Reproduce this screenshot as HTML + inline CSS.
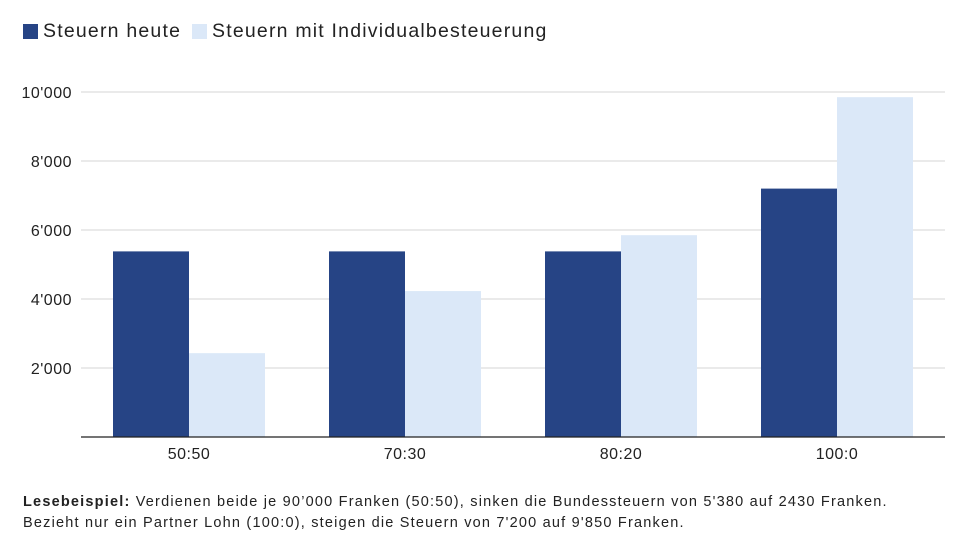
<!DOCTYPE html>
<html><head><meta charset="utf-8"><style>
body{margin:0;width:960px;height:545px;background:#fff;font-family:"Liberation Sans",sans-serif;color:#222;position:relative;overflow:hidden}
.leg{position:absolute;top:20px;font-size:19.5px;letter-spacing:1.2px;display:flex;align-items:center}
.sw{width:15px;height:15px;display:inline-block;margin-right:5px}
.note{position:absolute;left:23px;top:492px;font-size:14.5px;letter-spacing:1.2px;line-height:21px;color:#222}
</style></head><body>
<div class="leg" style="left:23px"><span class="sw" style="background:#264485"></span>Steuern heute</div>
<div class="leg" style="left:192px"><span class="sw" style="background:#dbe8f8"></span>Steuern mit Individualbesteuerung</div>
<svg id="c" width="960" height="480" style="position:absolute;left:0;top:0"></svg>
<div class="note"><b>Lesebeispiel:</b> Verdienen beide je 90’000 Franken (50:50), sinken die Bundessteuern von 5'380 auf 2430 Franken.<br>Bezieht nur ein Partner Lohn (100:0), steigen die Steuern von 7'200 auf 9'850 Franken.</div>
<script>
const categories=["50:50","70:30","80:20","100:0"];
const heute=[5380,5380,5380,7200];
const individual=[2430,4230,5850,9850];
const ticks=[2000,4000,6000,8000,10000];
const tickLabels=["2'000","4'000","6'000","8'000","10'000"];
const svg=document.getElementById('c');const NS="http://www.w3.org/2000/svg";
const y=v=>437-v*(345/10000);
const xc=i=>189+i*216;
function mk(t,a){const e=document.createElementNS(NS,t);for(const k in a)e.setAttribute(k,a[k]);svg.appendChild(e);return e;}
ticks.forEach((t,i)=>{
const l=mk('line',{x1:81,x2:945,y1:y(t),y2:y(t),stroke:'#d6d6d6','stroke-width':1});


const tx=mk('text',{x:72,y:y(t)+6,'text-anchor':'end','font-size':16,'letter-spacing':0.5,fill:'#222','font-family':'Liberation Sans, sans-serif'});
tx.textContent=tickLabels[i];


});
categories.forEach((c,i)=>{
const a=mk('rect',{x:xc(i)-76,y:y(heute[i]),width:76,height:437-y(heute[i]),fill:'#264485'});


const b=mk('rect',{x:xc(i),y:y(individual[i]),width:76,height:437-y(individual[i]),fill:'#dbe8f8'});


const t=mk('text',{x:xc(i),y:459,'text-anchor':'middle','font-size':16,'letter-spacing':0.5,fill:'#222','font-family':'Liberation Sans, sans-serif'});
t.textContent=c;


});
const ax=mk('line',{x1:81,x2:945,y1:437,y2:437,stroke:'#222','stroke-width':1.2});


</script>
</body></html>
